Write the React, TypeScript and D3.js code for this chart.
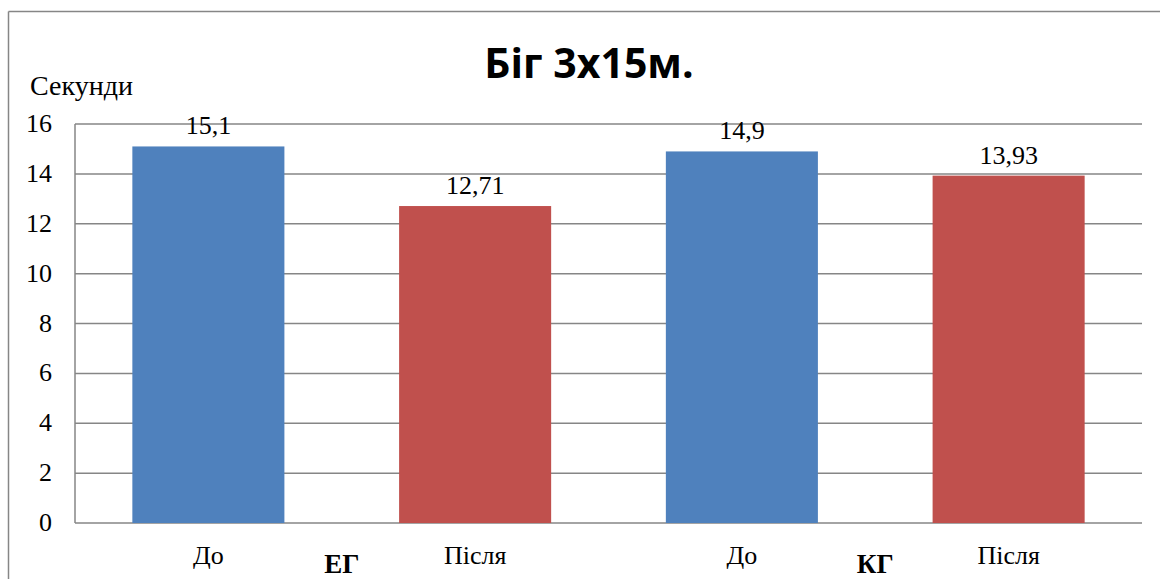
import React from "react";
import * as d3 from "d3";

// Run times (seconds) for the 3x15 m shuttle run, before/after, per group
const categories = ["До", "Після", "До", "Після"];
const groups = ["ЕГ", "КГ"];
const values = [15.1, 12.71, 14.9, 13.93];
const valueLabels = ["15,1", "12,71", "14,9", "13,93"];
const yTicks = [0, 2, 4, 6, 8, 10, 12, 14, 16];

const W = 1160;
const H = 579;
const plot = { left: 75, right: 1142, top: 124, bottom: 523 };
const serif = "Times New Roman, Liberation Serif, DejaVu Serif, serif";
const colors = ["#4f81bd", "#c0504d", "#4f81bd", "#c0504d"];

const serifStyle = { fontFamily: serif };

export default function App() {
  const x = d3
    .scaleBand<number>()
    .domain(d3.range(categories.length))
    .range([plot.left, plot.right])
    .paddingInner(0.43)
    .paddingOuter(0.215);
  const y = d3.scaleLinear().domain([0, 16]).range([plot.bottom, plot.top]);
  const step = x.step();

  return (
    <svg
      width={W}
      height={H}
      style={{ position: "absolute", left: 0, top: 0, background: "#fff" }}
    >
      {/* chart frame */}
      <line x1={8.5} y1={11.5} x2={W} y2={11.5} stroke="#868686" strokeWidth={1.5} />
      <line x1={8.5} y1={11.5} x2={8.5} y2={H} stroke="#868686" strokeWidth={1.5} />

      <text
        x={589}
        y={78}
        textAnchor="middle"
        style={{ fontFamily: "Open Sans, sans-serif", fontWeight: 700 }}
        fontSize={41}
      >
        Біг 3х15м.
      </text>

      <text x={30} y={95} style={serifStyle} fontSize={28}>
        Секунди
      </text>

      {/* gridlines and y ticks */}
      {yTicks.map((t) => (
        <g key={t}>
          <line
            x1={plot.left}
            x2={plot.right}
            y1={y(t)}
            y2={y(t)}
            stroke="#868686"
            strokeWidth={1.5}
          />
          <text
            x={52}
            y={y(t) + 8}
            textAnchor="end"
            style={serifStyle}
            fontSize={26}
          >
            {t}
          </text>
        </g>
      ))}
      <line
        x1={plot.left}
        x2={plot.left}
        y1={plot.top}
        y2={plot.bottom}
        stroke="#868686"
        strokeWidth={1.5}
      />

      {/* bars */}
      {values.map((v, i) => (
        <g key={i}>
          <rect
            x={x(i)}
            y={y(v)}
            width={x.bandwidth()}
            height={y(0) - y(v)}
            fill={colors[i]}
          />
          <text
            x={(x(i) as number) + x.bandwidth() / 2}
            y={y(v) - 12}
            textAnchor="middle"
            style={serifStyle}
            fontSize={26}
          >
            {valueLabels[i]}
          </text>
          <text
            x={(x(i) as number) + x.bandwidth() / 2}
            y={564}
            textAnchor="middle"
            style={serifStyle}
            fontSize={26}
          >
            {categories[i]}
          </text>
        </g>
      ))}

      {/* group labels */}
      {groups.map((g, k) => (
        <text
          key={g}
          x={plot.left + step * (2 * k + 1)}
          y={573}
          textAnchor="middle"
          style={{ fontFamily: serif, fontWeight: 700 }}
          fontSize={27}
        >
          {g}
        </text>
      ))}
    </svg>
  );
}
